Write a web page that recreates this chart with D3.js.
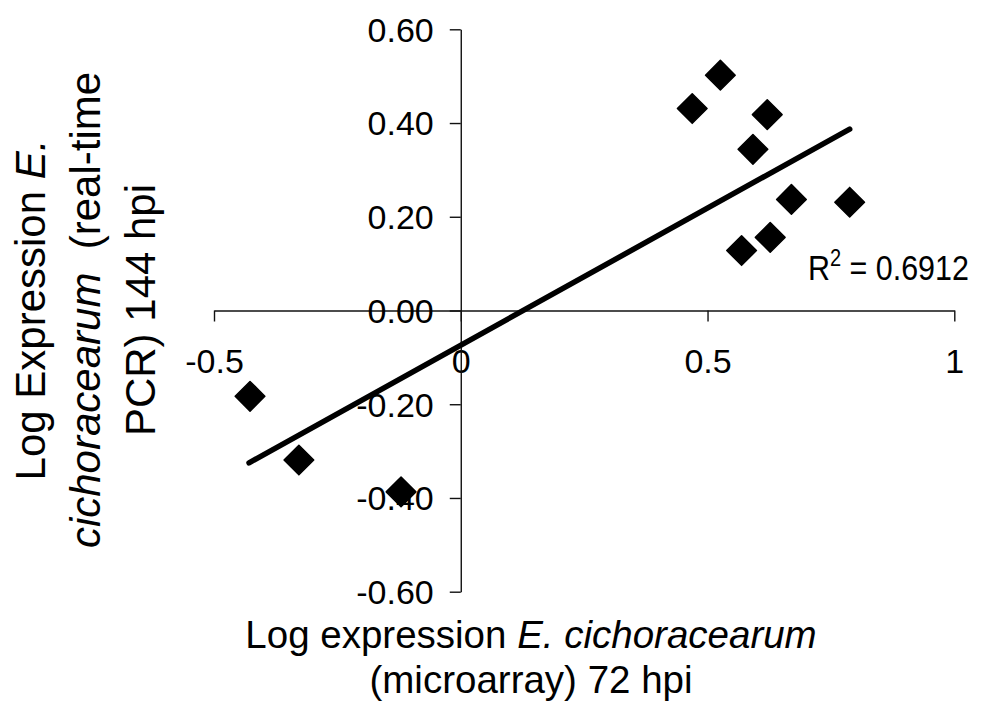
<!DOCTYPE html>
<html>
<head>
<meta charset="utf-8">
<script src="https://cdn.jsdelivr.net/npm/d3@7"></script>
<style>
  html, body { margin: 0; padding: 0; background: #fff; }
  svg { display: block; font-family: "Liberation Sans", Arial, sans-serif; }
</style>
</head>
<body>
<svg id="chart" width="1005" height="703"></svg>
<script>
// ---- data ----
const microarray72 = [0.526, 0.469, 0.621, 0.592, 0.670, 0.788, 0.627, 0.569, -0.427, -0.328, -0.121];
const pcr144       = [0.502, 0.431, 0.418, 0.344, 0.237, 0.231, 0.156, 0.128, -0.183, -0.319, -0.387];
const xTickValues = [-0.5, 0, 0.5, 1];
const xTickLabels = ["-0.5", "0", "0.5", "1"];
const yTickValues = [0.6, 0.4, 0.2, 0, -0.2, -0.4, -0.6];
const yTickLabels = ["0.60", "0.40", "0.20", "0.00", "-0.20", "-0.40", "-0.60"];
const trendXRange = [-0.429, 0.788];
const trendSlope = 0.585;
const trendIntercept = -0.074;
const rSquared = "0.6912";

// ---- layout ----
const svg = d3.select("#chart");
const x = d3.scaleLinear().domain([-0.5, 1]).range([214, 954.3]);
const y = d3.scaleLinear().domain([-0.6, 0.6]).range([591.7, 29.3]);

// x axis (at y = 0)
const xAxis = d3.axisBottom(x).tickValues(xTickValues).tickSize(11).tickSizeOuter(0)
  .tickFormat((d, i) => xTickLabels[i]);
const gx = svg.append("g").attr("transform", `translate(0,${y(0)})`).call(xAxis);
gx.select(".domain").attr("stroke", "#111").attr("stroke-width", 1.4);
gx.selectAll(".tick line").attr("stroke", "#111").attr("stroke-width", 1.4);
gx.selectAll(".tick text").attr("font-size", 34).attr("fill", "#000")
  .attr("font-family", "'Liberation Sans', Arial, sans-serif")
  .attr("dy", null).attr("y", 62);

// y axis (at x = 0)
const yAxis = d3.axisLeft(y).tickValues(yTickValues).tickSize(11).tickSizeOuter(0)
  .tickFormat((d, i) => yTickLabels[i]);
const gy = svg.append("g").attr("transform", `translate(${x(0)},0)`).call(yAxis);
gy.select(".domain").attr("stroke", "#111").attr("stroke-width", 1.4);
gy.selectAll(".tick line").attr("stroke", "#111").attr("stroke-width", 1.4);
gy.selectAll(".tick text").attr("font-size", 34).attr("fill", "#000")
  .attr("font-family", "'Liberation Sans', Arial, sans-serif")
  .attr("x", -27).attr("dy", "0.35em");

// trend line
const line = d3.line().x(d => x(d)).y(d => y(trendSlope * d + trendIntercept));
svg.append("path").datum(trendXRange).attr("d", line)
  .attr("fill", "none").attr("stroke", "#000").attr("stroke-width", 5.5)
  .attr("stroke-linecap", "round");

// points
const pts = microarray72.map((v, i) => ({ x: v, y: pcr144[i] }));
const diamond = d3.symbol().type(d3.symbolSquare).size(440);
svg.append("g").selectAll("path").data(pts).join("path")
  .attr("d", diamond)
  .attr("transform", d => `translate(${x(d.x)},${y(d.y)}) rotate(45)`)
  .attr("fill", "#000").attr("stroke", "#000").attr("stroke-width", 1.5)
  .attr("stroke-linejoin", "round");

// R^2 label
const rt = svg.append("text").attr("x", 808).attr("y", 280).attr("font-size", 35).attr("fill", "#000")
  .attr("transform", "translate(808,0) scale(0.87,1) translate(-808,0)");
rt.append("tspan").text("R");
rt.append("tspan").attr("font-size", 23).attr("dy", -14).text("2");
rt.append("tspan").attr("dy", 14).text(" = " + rSquared);

// x axis title
const xt = svg.append("text").attr("text-anchor", "middle").attr("font-size", 38.5).attr("fill", "#000");
const xl1 = xt.append("tspan").attr("x", 531).attr("y", 648);
xl1.append("tspan").text("Log expression ");
xl1.append("tspan").attr("font-style", "italic").text("E. cichoracearum");
xt.append("tspan").attr("x", 531).attr("y", 693).text("(microarray) 72 hpi");

// y axis title
const yt = svg.append("text").attr("text-anchor", "middle").attr("font-size", 42).attr("fill", "#000")
  .attr("transform", "translate(0,310) rotate(-90)");
const yl1 = yt.append("tspan").attr("x", 0).attr("y", 45);
yl1.append("tspan").text("Log Expression ");
yl1.append("tspan").attr("font-style", "italic").text("E.");
const yl2 = yt.append("tspan").attr("x", 0).attr("y", 100);
yl2.append("tspan").attr("font-style", "italic").text("cichoracearum");
yl2.append("tspan").text("\u00a0 (real-time");
yt.append("tspan").attr("x", 0).attr("y", 155).text("PCR) 144 hpi");
</script>
</body>
</html>
